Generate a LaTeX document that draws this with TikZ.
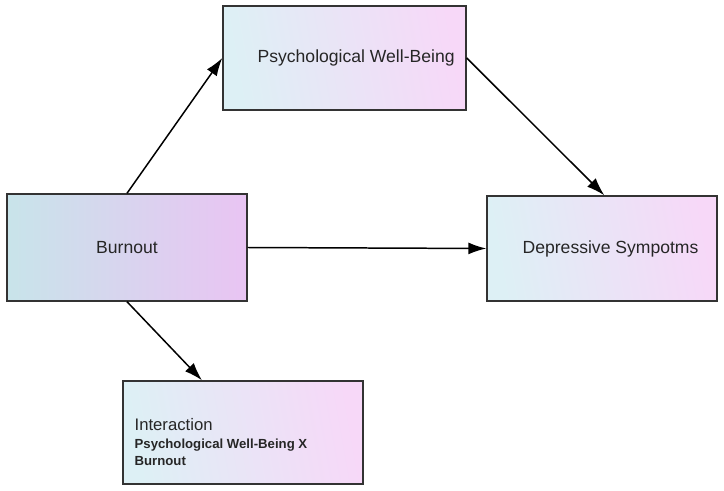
\documentclass[tikz,border=0pt]{standalone}
\usepackage{fontspec}
\setmainfont{Liberation Sans}
\usepackage{xcolor}
\usepackage{tikz}
\usetikzlibrary{arrows.meta,positioning,calc}
\definecolor{boxleft}{HTML}{DDF0F5}
\definecolor{boxright}{HTML}{F7D8F8}
\definecolor{burnleft}{HTML}{C8E4EA}
\definecolor{burnright}{HTML}{E9C4F3}
\definecolor{boxline}{HTML}{333333}
\tikzset{
  varbox/.style={draw=boxline,line width=0.8pt,left color=boxleft,right color=boxright,
    shading angle=100,minimum width=4.8cm,minimum height=2.08cm,inner sep=0pt},
  burnbox/.style={varbox,left color=burnleft,right color=burnright},
  varlabel/.style={font=\fontsize{10}{12}\selectfont,text=black!85,inner sep=0pt},
  pathArrow/.style={-{Latex[length=3.6mm,width=2.4mm]},line width=0.85pt,black}
}
\newcommand{\interbold}[1]{{\bfseries\fontsize{7.5}{10}\selectfont #1}}

\begin{document}
\begin{tikzpicture}[x=1.0cm,y=1.0cm]
  \useasboundingbox (0,0) rectangle (14.48,-9.82);
  \node[varbox,minimum width=4.86cm] (pwb) at (6.89,-1.16) {};
  \node[burnbox,minimum height=2.14cm] (burnout) at (2.54,-4.95) {};
  \node[varbox,minimum width=4.6cm,minimum height=2.1cm] (depr) at (12.04,-4.97) {};
  \node[varbox,minimum height=2.06cm] (inter) at (4.86,-8.65) {};
  \node[varlabel,anchor=west,right=0.7cm of pwb.west] (pwblabel) {Psychological Well-Being};
  \node[varlabel] (burnlabel) at (burnout.center) {Burnout};
  \node[varlabel,anchor=west,right=0.72cm of depr.west] (deprlabel) {Depressive Sympotms};
  \node[varlabel,align=left,font=\fontsize{9.5}{10}\selectfont,
    below right=0.76cm and 0.24cm of inter.north west] (interlabel)
    {Interaction\\\interbold{Psychological Well-Being X}\\\interbold{Burnout}};
  \draw[pathArrow] (burnout.north) -- (pwb.west);
  \draw[pathArrow] (pwb.east) -- ($(depr.north west)!0.51!(depr.north east)$);
  \draw[pathArrow] (burnout.east) -- (depr.west);
  \draw[pathArrow] (burnout.south) -- ($(inter.north west)!0.33!(inter.north east)$);
\end{tikzpicture}
\end{document}
